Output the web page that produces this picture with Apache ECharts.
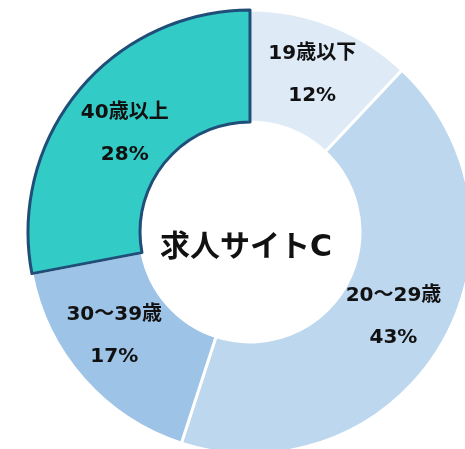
<!DOCTYPE html>
<html>
<head>
<meta charset="utf-8">
<script src="https://cdn.jsdelivr.net/npm/echarts@6/dist/echarts.min.js"></script>
<style>
  html, body { margin: 0; padding: 0; background: #fff; }
  #graph { width: 465px; height: 449px; }
</style>
</head>
<body>
<div id="graph"></div>
<script>
  // 年齢区分と割合(%)
  var catName = ["19歳以下", "20～29歳", "30～39歳", "40歳以上"];
  var pctData = [12, 43, 17, 28];
  var colors = ["#deeaf6", "#bdd7ee", "#9dc3e6", "#33cbc6"];
  // ラベルの微調整(元のグラフの位置に合わせる)
  var labelShift = [[0, 0], [-2, -1], [-9, -8], [5, 10]];
  var centerLabel = "求人サイトC";

  var myChart = echarts.init(document.getElementById('graph'));

  var pieData = catName.map(function (name, i) {
    var item = {
      name: name,
      value: pctData[i],
      itemStyle: { color: colors[i], borderColor: "#ffffff", borderWidth: 3 },
      label: { offset: labelShift[i] }
    };
    // 40歳以上だけ濃い枠線
    if (i === 3) {
      item.itemStyle.borderColor = "#1f4e79";
      item.itemStyle.borderWidth = 3;
    }
    return item;
  });

  var option = {
    animation: false,
    graphic: [{
      type: "text",
      x: 246,
      y: 248,
      style: {
        text: centerLabel,
        font: "bold 30px 'DejaVu Sans', 'Noto Sans CJK JP'",
        fill: "#111111",
        align: "center",
        verticalAlign: "middle"
      }
    }],
    series: [{
      type: "pie",
      center: [250, 232],
      radius: [110, 222],
      startAngle: 90,
      clockwise: true,
      silent: true,
      label: {
        show: true,
        position: "inside",
        formatter: function (p) { return p.name + "\n" + p.value + "%"; },
        fontFamily: "'DejaVu Sans', 'Noto Sans CJK JP'",
        fontWeight: "bold",
        fontSize: 20,
        lineHeight: 42,
        color: "#111111"
      },
      labelLine: { show: false },
      data: pieData
    }]
  };
  myChart.setOption(option);
</script>
</body>
</html>
